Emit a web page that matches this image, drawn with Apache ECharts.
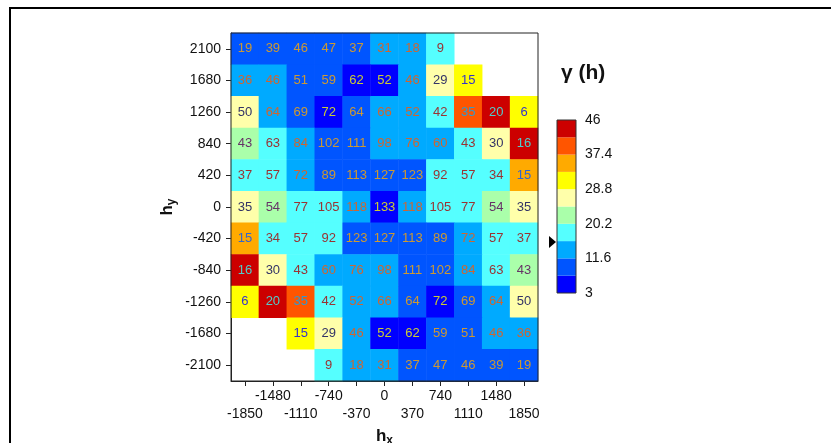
<!DOCTYPE html>
<html>
<head>
<meta charset="utf-8">
<title>variogram map</title>
<script src="https://cdn.jsdelivr.net/npm/echarts@6/dist/echarts.min.js"></script>
<style>
  html, body { margin: 0; padding: 0; background: #fff; }
  #main { width: 831px; height: 443px; }
</style>
</head>
<body>
<div id="main"></div>
<script>
// lag classes
var hxLabels = ['-1850', '-1480', '-1110', '-740', '-370', '0', '370', '740', '1110', '1480', '1850'];
var hyLabels = ['-2100', '-1680', '-1260', '-840', '-420', '0', '420', '840', '1260', '1680', '2100'];

// pair counts, rows from hy=2100 (top) down to hy=-2100
var pairCounts = [
  [19, 39, 46, 47, 37, 31, 18, 9, null, null, null],
  [36, 46, 51, 59, 62, 52, 46, 29, 15, null, null],
  [50, 64, 69, 72, 64, 66, 52, 42, 35, 20, 6],
  [43, 63, 84, 102, 111, 98, 76, 60, 43, 30, 16],
  [37, 57, 72, 89, 113, 127, 123, 92, 57, 34, 15],
  [35, 54, 77, 105, 118, 133, 118, 105, 77, 54, 35],
  [15, 34, 57, 92, 123, 127, 113, 89, 72, 57, 37],
  [16, 30, 43, 60, 76, 98, 111, 102, 84, 63, 43],
  [6, 20, 35, 42, 52, 66, 64, 72, 69, 64, 50],
  [null, null, 15, 29, 46, 52, 62, 59, 51, 46, 36],
  [null, null, null, 9, 18, 31, 37, 47, 46, 39, 19]
];

// semivariance γ(h), same layout
var gammaRows = [
  [9.8, 10.5, 9.9, 8.7, 9.2, 13.1, 14.6, 17.4, null, null, null],
  [13.4, 14.2, 10.8, 9.6, 6.5, 6.9, 12.8, 27.1, 30.2, null, null],
  [26.3, 13.9, 10.1, 6.8, 9.5, 12.4, 14.8, 18.9, 39.6, 44.2, 29.7],
  [22.1, 17.6, 13.2, 10.4, 8.9, 12.1, 14.3, 15.2, 17.8, 26.8, 43.5],
  [19.3, 17.1, 14.5, 9.8, 8.6, 9.3, 10.7, 17.9, 19.1, 18.4, 36.2],
  [25.4, 23.0, 17.2, 16.8, 13.6, 6.2, 13.6, 16.8, 17.2, 23.0, 25.4],
  [36.2, 18.4, 19.1, 17.9, 10.7, 9.3, 8.6, 9.8, 14.5, 17.1, 19.3],
  [43.5, 26.8, 17.8, 15.2, 14.3, 12.1, 8.9, 10.4, 13.2, 17.6, 22.1],
  [29.7, 44.2, 39.6, 18.9, 14.8, 12.4, 9.5, 6.8, 10.1, 13.9, 26.3],
  [null, null, 30.2, 27.1, 12.8, 6.9, 6.5, 9.6, 10.8, 14.2, 13.4],
  [null, null, null, 17.4, 14.6, 13.1, 9.2, 8.7, 9.9, 10.5, 9.8]
];

// colour scale
var bandEdges = [3, 7.3, 11.6, 15.9, 20.2, 24.5, 28.8, 33.1, 37.4, 41.7, 46];
var bandColors = ['#0000ff', '#0055ff', '#00aaff', '#55ffff', '#aaffaa',
                  '#ffffaa', '#ffff00', '#ffaa00', '#ff5500', '#cc0000'];
var legendTicks = [3, 11.6, 20.2, 28.8, 37.4, 46];

var FONT = '"Liberation Sans", Arial, sans-serif';

function bandOf(v) {
  for (var k = 0; k < bandColors.length - 1; k++) {
    if (v < bandEdges[k + 1]) return k;
  }
  return bandColors.length - 1;
}
// label colour = inverse of the cell colour, softened a bit toward the cell
function labelColor(hex) {
  var n = parseInt(hex.slice(1), 16);
  var out = [];
  for (var s = 16; s >= 0; s -= 8) {
    var bg = (n >> s) & 255;
    out.push(Math.round((255 - bg) * 0.8 + bg * 0.2));
  }
  return 'rgb(' + out.join(',') + ')';
}

var cells = [];
for (var r = 0; r < pairCounts.length; r++) {
  for (var c = 0; c < hxLabels.length; c++) {
    if (pairCounts[r][c] == null) continue;
    var g = gammaRows[r][c];
    cells.push({
      value: [c, hyLabels.length - 1 - r, g, pairCounts[r][c]],
      label: { color: labelColor(bandColors[bandOf(g)]) }
    });
  }
}

var pieces = [];
for (var k = 0; k < bandColors.length; k++) {
  pieces.push({ gte: bandEdges[k], lt: bandEdges[k + 1], color: bandColors[k] });
}
pieces[pieces.length - 1].lte = bandEdges[bandEdges.length - 1];
delete pieces[pieces.length - 1].lt;

var bands = [];
for (var k = 0; k < bandColors.length; k++) {
  bands.push([0, bandEdges[k], bandEdges[k + 1], k]);
}

var chart = echarts.init(document.getElementById('main'));
var option = {
  animation: false,
  title: {
    text: 'γ (h)',
    left: 556, top: 58,
    textStyle: { fontSize: 21, fontWeight: 'bold', color: '#111', fontFamily: FONT }
  },
  grid: [
    { left: 231, top: 33, width: 307, height: 348, show: true, z: 10, outerBoundsMode: 'none',
      borderColor: '#222', borderWidth: 1, backgroundColor: 'transparent' },
    { left: 557, top: 120, width: 19, height: 173, show: true, z: 10, outerBoundsMode: 'none',
      borderColor: '#333', borderWidth: 1, backgroundColor: 'transparent' }
  ],
  xAxis: [
    {
      gridIndex: 0, type: 'category', data: hxLabels,
      axisLine: { show: true, lineStyle: { color: '#222' } },
      axisTick: { show: true, alignWithLabel: true, length: 5, interval: 0, lineStyle: { color: '#222' } },
      axisLabel: {
        interval: 0, margin: 6, fontSize: 14, lineHeight: 18, color: '#111', fontFamily: FONT,
        formatter: function (v, i) { return i % 2 === 0 ? '\n' + v : v; }
      },
      splitLine: { show: false },
      name: '{h|h}{s|x}', nameLocation: 'middle', nameGap: 43,
      nameTextStyle: {
        rich: {
          h: { fontSize: 17, fontWeight: 'bold', color: '#111', fontFamily: FONT },
          s: { fontSize: 12, fontWeight: 'bold', color: '#111', fontFamily: FONT, padding: [9, 0, 0, 0] }
        }
      }
    },
    { gridIndex: 1, type: 'value', min: 0, max: 1, show: false }
  ],
  yAxis: [
    {
      gridIndex: 0, type: 'category', data: hyLabels,
      axisLine: { show: true, lineStyle: { color: '#222' } },
      axisTick: { show: true, alignWithLabel: true, length: 5, interval: 0, lineStyle: { color: '#222' } },
      axisLabel: { interval: 0, margin: 10, fontSize: 14, color: '#111', fontFamily: FONT },
      splitLine: { show: false },
      name: '{h|h}{s|y}', nameLocation: 'middle', nameGap: 53,
      nameTextStyle: {
        rich: {
          h: { fontSize: 17, fontWeight: 'bold', color: '#111', fontFamily: FONT },
          s: { fontSize: 12, fontWeight: 'bold', color: '#111', fontFamily: FONT, padding: [9, 0, 0, 0] }
        }
      }
    },
    {
      gridIndex: 1, type: 'value', position: 'right',
      min: legendTicks[0], max: legendTicks[legendTicks.length - 1],
      interval: legendTicks[1] - legendTicks[0],
      axisLine: { show: false }, axisTick: { show: false }, splitLine: { show: false },
      axisLabel: {
        margin: 9, fontSize: 14, color: '#111', fontFamily: FONT,
        formatter: function (v) { return String(Math.round(v * 10) / 10); }
      }
    }
  ],
  visualMap: {
    type: 'piecewise', show: false, seriesIndex: 0, dimension: 2, pieces: pieces
  },
  series: [
    {
      type: 'heatmap', xAxisIndex: 0, yAxisIndex: 0, data: cells,
      label: {
        show: true, fontSize: 13, fontFamily: FONT,
        formatter: function (p) { return p.value[3]; }
      },
      emphasis: { disabled: true }
    },
    {
      type: 'custom', xAxisIndex: 1, yAxisIndex: 1, data: bands,
      encode: { x: 0, y: [1, 2] },
      renderItem: function (params, api) {
        var lo = api.coord([0, api.value(1)]);
        var hi = api.coord([0, api.value(2)]);
        var cs = params.coordSys;
        return {
          type: 'rect',
          shape: { x: cs.x, y: hi[1], width: cs.width, height: lo[1] - hi[1] },
          style: { fill: bandColors[api.value(3)] }
        };
      },
      silent: true
    }
  ],
  graphic: [
    { type: 'polyline', shape: { points: [[10, 443], [10, 8], [831, 8]] },
      style: { stroke: '#000', lineWidth: 2, fill: null } },
    { type: 'polygon', shape: { points: [[549, 236], [556, 242], [549, 248]] },
      style: { fill: '#000' } }
  ]
};
chart.setOption(option);
</script>
</body>
</html>
